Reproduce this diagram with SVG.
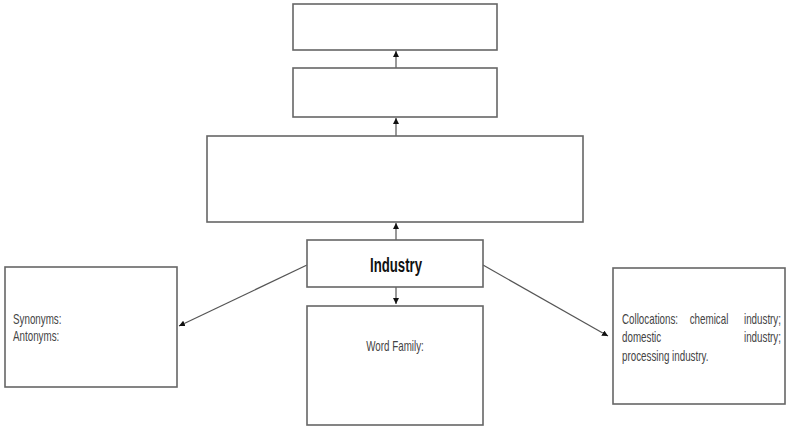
<svg xmlns="http://www.w3.org/2000/svg" width="787" height="427" viewBox="0 0 787 427">
  <style>
    .box { fill: #ffffff; stroke: #666666; stroke-width: 1.6; }
    .link { stroke: #555555; stroke-width: 1.2; fill: none; }
    .lbl { font-family: "Liberation Sans", Arial, sans-serif; font-size: 14px; fill: #444444; }
    .title { font-family: "Liberation Sans", Arial, sans-serif; font-size: 20px; font-weight: bold; fill: #111111; }
  </style>
  <defs>
    <marker id="tip" viewBox="0 0 10 10" refX="10" refY="5" markerWidth="6" markerHeight="6" markerUnits="userSpaceOnUse" orient="auto">
      <path d="M0,0 L10,5 L0,10 z" fill="#111111"/>
    </marker>
  </defs>

  <g id="connectors">
    <line class="link" x1="396" y1="68" x2="396" y2="51" marker-end="url(#tip)"/>
    <line class="link" x1="396" y1="136" x2="396" y2="118" marker-end="url(#tip)"/>
    <line class="link" x1="396" y1="240" x2="396" y2="223" marker-end="url(#tip)"/>
    <line class="link" x1="396" y1="287" x2="396" y2="304" marker-end="url(#tip)"/>
    <line class="link" x1="307" y1="265" x2="179" y2="326" marker-end="url(#tip)"/>
    <line class="link" x1="483" y1="265" x2="608" y2="336" marker-end="url(#tip)"/>
  </g>

  <g id="top-box">
    <rect class="box" x="293" y="4" width="204" height="46"/>
  </g>
  <g id="second-box">
    <rect class="box" x="293" y="68" width="204" height="49"/>
  </g>
  <g id="wide-box">
    <rect class="box" x="207" y="136" width="376" height="86"/>
  </g>

  <g id="industry">
    <rect class="box" x="307" y="240" width="176" height="47"/>
    <text class="title" transform="translate(396 272) scale(0.66 1)" text-anchor="middle">Industry</text>
  </g>

  <g id="synonyms">
    <rect class="box" x="5" y="267" width="172" height="120"/>
    <text class="lbl" transform="translate(13 324) scale(0.7 1)">Synonyms:</text>
    <text class="lbl" transform="translate(13 341) scale(0.7 1)">Antonyms:</text>
  </g>

  <g id="word-family">
    <rect class="box" x="307" y="306" width="176" height="119"/>
    <text class="lbl" transform="translate(395 351) scale(0.7 1)" text-anchor="middle">Word Family:</text>
  </g>

  <g id="collocations">
    <rect class="box" x="613" y="268" width="172" height="136"/>
    <text class="lbl" transform="translate(622 324) scale(0.7 1)">Collocations:</text>
    <text class="lbl" transform="translate(709 324) scale(0.7 1)" text-anchor="middle">chemical</text>
    <text class="lbl" transform="translate(781 324) scale(0.7 1)" text-anchor="end">industry;</text>
    <text class="lbl" transform="translate(622 342) scale(0.7 1)">domestic</text>
    <text class="lbl" transform="translate(781 342) scale(0.7 1)" text-anchor="end">industry;</text>
    <text class="lbl" transform="translate(622 361) scale(0.7 1)">processing industry.</text>
  </g>
</svg>
